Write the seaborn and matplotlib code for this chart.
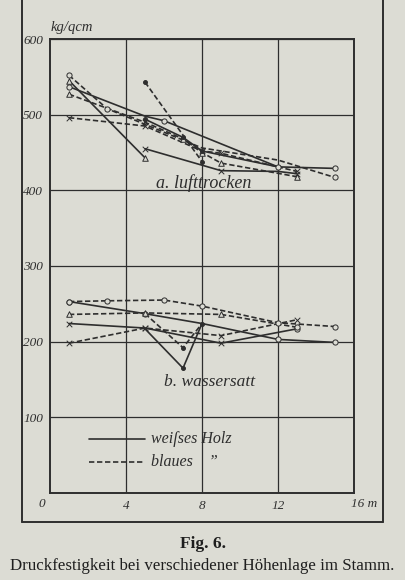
import matplotlib
matplotlib.use("Agg")
import matplotlib.pyplot as plt
import seaborn as sns
import pandas as pd
from matplotlib.lines import Line2D

# ---------------- data ----------------
# heights in m, strength in kg/qcm
# a. lufttrocken -- weisses Holz (solid)
wa1_x = [1, 5, 6, 12, 15]; wa1_y = [537, 498, 492, 431, 429]; wa1_m = ['o', '', 'o', 'o', 'o']
wa2_x = [1, 5];            wa2_y = [545, 443];                wa2_m = ['^', '^']
wa3_x = [5, 9, 12, 13];    wa3_y = [455, 426, 425, 422];      wa3_m = ['x', 'x', '', 'x']
wa4_x = [5, 7, 8, 12];     wa4_y = [494, 470, 452, 431];      wa4_m = ['.', '.', '.', '']
# a. lufttrocken -- blaues Holz (dashed)
ba1_x = [1, 3, 8, 12, 15];        ba1_y = [552, 508, 456, 440, 417];      ba1_m = ['o', 'o', '', '', 'o']
ba2_x = [1, 5, 7, 8, 9, 13];      ba2_y = [527, 490, 468, 450, 436, 418]; ba2_m = ['^', 'x', '^', '^', '^', '^']
ba3_x = [1, 5, 8, 9, 12, 13];     ba3_y = [496, 485, 452, 449, 431, 425]; ba3_m = ['x', 'x', 'x', 'x', '', 'x']
ba4_x = [5, 8];                   ba4_y = [543, 438];                     ba4_m = ['.', '.']
# b. wassersatt -- weisses Holz (solid)
wb1_x = [1, 5, 8, 12, 15]; wb1_y = [253, 237, 224, 203, 199]; wb1_m = ['o', 'o', '.', 'o', 'o']
wb2_x = [1, 5, 9, 13];     wb2_y = [224, 218, 198, 217];      wb2_m = ['x', 'x', 'x', 'o']
wb3_x = [5, 7, 8];         wb3_y = [217, 165, 224];           wb3_m = ['', '.', '']
# b. wassersatt -- blaues Holz (dashed)
bb1_x = [1, 3, 6, 8, 12, 15]; bb1_y = [253, 254, 255, 247, 225, 220]; bb1_m = ['o', 'o', 'o', 'o', 'o', 'o']
bb2_x = [1, 5, 9, 13];        bb2_y = [236, 238, 236, 219];           bb2_m = ['^', '^', '^', 'o']
bb3_x = [1, 5, 9, 13];        bb3_y = [198, 218, 208, 229];           bb3_m = ['x', 'x', 'x', 'x']
bb4_x = [5, 7, 8];            bb4_y = [237, 192, 224];                bb4_m = ['', '.', '']

x_ticks = [4, 8, 12]
y_ticks = [100, 200, 300, 400, 500, 600]

series = [
    ("wa1", "weiss", wa1_x, wa1_y, wa1_m), ("wa2", "weiss", wa2_x, wa2_y, wa2_m),
    ("wa3", "weiss", wa3_x, wa3_y, wa3_m), ("wa4", "weiss", wa4_x, wa4_y, wa4_m),
    ("ba1", "blau", ba1_x, ba1_y, ba1_m), ("ba2", "blau", ba2_x, ba2_y, ba2_m),
    ("ba3", "blau", ba3_x, ba3_y, ba3_m), ("ba4", "blau", ba4_x, ba4_y, ba4_m),
    ("wb1", "weiss", wb1_x, wb1_y, wb1_m), ("wb2", "weiss", wb2_x, wb2_y, wb2_m),
    ("wb3", "weiss", wb3_x, wb3_y, wb3_m),
    ("bb1", "blau", bb1_x, bb1_y, bb1_m), ("bb2", "blau", bb2_x, bb2_y, bb2_m),
    ("bb3", "blau", bb3_x, bb3_y, bb3_m), ("bb4", "blau", bb4_x, bb4_y, bb4_m),
]
rows = []
for name, kind, xs, ys, ms in series:
    for x, y, m in zip(xs, ys, ms):
        rows.append(dict(series=name, kind=kind, x=x, y=y, marker=m))
df = pd.DataFrame(rows)

# ---------------- style ----------------
BG = "#dcdcd4"
INK = "#2e2e2e"
sns.set_theme(style="white")
plt.rcParams["font.family"] = ["Liberation Serif", "DejaVu Serif"]

fig = plt.figure(figsize=(4.05, 5.8), dpi=100, facecolor=BG)
ax = fig.add_axes([50 / 405, 1 - 493 / 580, 304 / 405, 454 / 580])
ax.set_facecolor(BG)

# lines
sns.lineplot(data=df, x="x", y="y", units="series", style="kind", estimator=None,
             dashes={"weiss": "", "blau": (3.2, 1.6)}, color=INK, linewidth=1.2,
             sort=False, legend=False, ax=ax)

# markers
mk = df[df.marker != ""]
for code, mstyle, size, fc in [("o", "o", 14, BG), ("^", "^", 16, BG), ("x", "x", 16, INK), (".", "o", 8, INK)]:
    sub = mk[mk.marker == code]
    sns.scatterplot(data=sub, x="x", y="y", marker=mstyle, s=size, color=INK,
                    facecolor=fc if code in ("o", "^") else INK,
                    edgecolor=INK, linewidth=0.7, zorder=5, legend=False, ax=ax)

# axes / grid
ax.set_xlim(0, 16)
ax.set_ylim(0, 600)
ax.set_xticks(x_ticks)
ax.set_yticks(y_ticks)
ax.set_xticklabels([str(t) for t in x_ticks], fontstyle="italic", fontsize=9.5, color=INK)
ax.set_yticklabels([str(t) for t in y_ticks], fontstyle="italic", fontsize=9.5, color=INK)
ax.tick_params(length=0, pad=5)
ax.grid(True, color=INK, linewidth=0.9)
ax.set_axisbelow(True)
for s in ax.spines.values():
    s.set_color(INK)
    s.set_linewidth(1.4)
ax.set_xlabel("")
ax.set_ylabel("")

ax.text(-0.45, -14, "0", ha="center", va="center", fontstyle="italic", fontsize=9.5, color=INK)
ax.text(16.55, -14, "16 m", ha="center", va="center", fontstyle="italic", fontsize=9.5, color=INK)
ax.text(0.05, 606, "kg/qcm", ha="left", va="bottom", fontstyle="italic", fontsize=10.5, color=INK)

ax.text(5.6, 410, "a. lufttrocken", ha="left", va="center", fontstyle="italic", fontsize=13, color=INK)
ax.text(6.0, 147, "b. wassersatt", ha="left", va="center", fontstyle="italic", fontsize=12.5, color=INK)

# legend drawn inside plot like the original
ax.add_line(Line2D([2.05, 5.0], [71, 71], color=INK, linewidth=1.2))
ax.add_line(Line2D([2.05, 5.0], [41, 41], color=INK, linewidth=1.2, dashes=(3.2, 1.6)))
ax.text(5.3, 71, "weiſses Holz", ha="left", va="center", fontstyle="italic", fontsize=11.5, color=INK)
ax.text(5.3, 41, "blaues    \u201d", ha="left", va="center", fontstyle="italic", fontsize=11.5, color=INK)

# outer frame
fig.add_artist(Line2D([22 / 405, 22 / 405], [1.0, 1 - 522 / 580], transform=fig.transFigure, color=INK, linewidth=1.4))
fig.add_artist(Line2D([383 / 405, 383 / 405], [1.0, 1 - 522 / 580], transform=fig.transFigure, color=INK, linewidth=1.4))
fig.add_artist(Line2D([22 / 405, 383 / 405], [1 - 522 / 580, 1 - 522 / 580], transform=fig.transFigure, color=INK, linewidth=1.4))

# caption
fig.text(0.5, 1 - 544 / 580, "Fig. 6.", ha="center", va="center", fontsize=12.5, fontweight="bold", color="#1e1e1e")
fig.text(0.5, 1 - 566 / 580, "Druckfestigkeit bei verschiedener Höhenlage im Stamm.",
         ha="center", va="center", fontsize=12.2, color="#1e1e1e")

fig.savefig("out.png", dpi=100, facecolor=BG)
